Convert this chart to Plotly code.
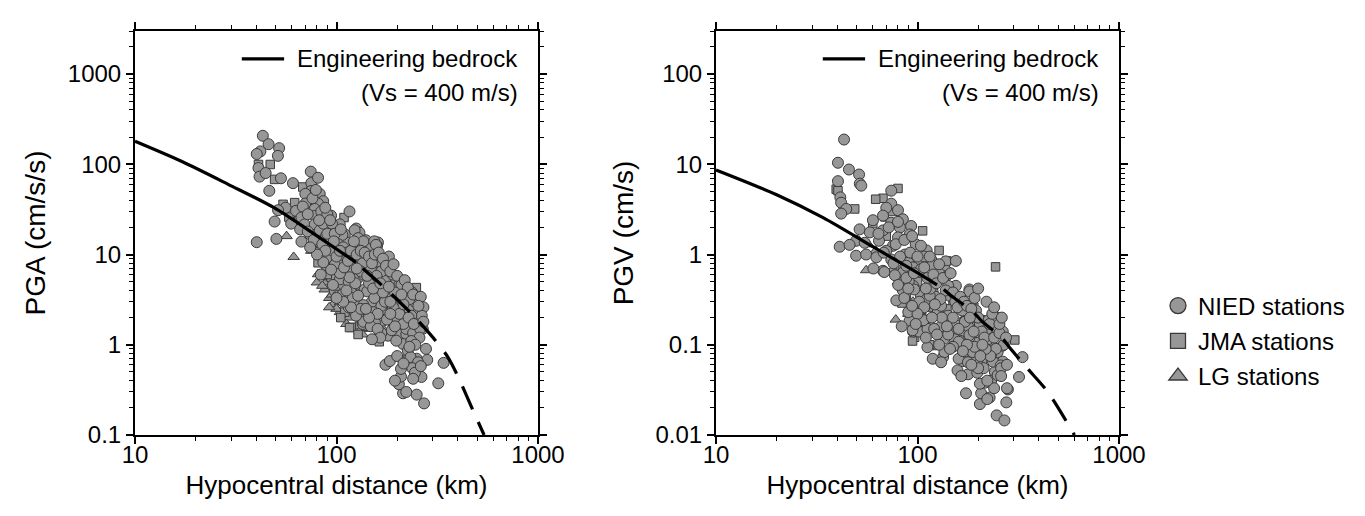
import math
import plotly.graph_objects as go

# ---------------- PGA panel data (distance km, PGA cm/s/s) ----------------
pga_nied_d = [43.1, 46, 41.9, 40.2, 51.9, 51.2, 41, 41.5, 44.5, 53, 46.4, 60.8, 74.5, 40.2, 50.3, 49.3,
              116, 182, 340, 320, 282, 272, 250, 214, 204, 209, 175, 184, 256, 250, 229,
              75, 81, 82.6, 74.8, 70, 85.9, 81, 70, 55.9, 51.3, 63, 68, 78, 94, 78, 87.4, 67, 59.6,
              103.8, 69.5, 78, 82.6, 92.4, 67, 73.7, 81, 99.5, 92.4, 93.6, 103.8, 88.7,
              125.4, 110, 130, 112, 140, 160.6, 159, 130, 149, 121, 106, 165.5, 130,
              118.5, 143, 167, 112, 128, 149, 174, 198, 237, 222, 254, 106, 118.5, 138, 157, 180, 202,
              110, 125, 149, 167, 190, 219, 249, 128, 152, 170, 268, 249, 135, 155, 180, 206, 222, 244,
              214, 198, 226, 233, 254, 209, 238, 264, 245, 222, 195,
              98, 104, 102,
              92.5, 107, 123, 128, 136, 154, 157, 131, 115, 98, 89, 83.5, 96, 115, 136, 148, 164, 167,
              142, 120, 107, 115, 136, 154, 174, 160, 182, 136, 125, 148, 167, 188, 222, 240, 196, 212,
              230, 251, 260, 226, 245, 256, 200,
              66, 72, 77, 85, 90, 96, 100, 110, 88, 205, 190, 230,
              72, 76, 79, 84, 86, 90, 95, 98, 102, 105, 108, 112, 118, 122, 126, 132, 135, 138, 145, 150,
              155, 162, 170, 176, 185, 192, 200, 210, 218, 226, 240, 262, 270, 265, 258, 235, 215, 195,
              178, 160, 145, 132, 118, 108, 100, 112, 124, 132, 145, 158, 170, 185, 195, 205, 215, 235,
              185, 165, 150, 140, 128, 116, 104, 94, 86, 80, 74, 82, 88, 93, 97, 104, 109, 114, 126, 142,
              152, 165, 182, 210, 228, 242, 270, 255, 246, 230, 200, 215, 240, 262, 278]
pga_nied_v = [207, 167, 139, 130, 151, 124, 91, 73, 80, 70, 50.8, 61.8, 83, 13.7, 14.9, 23.2,
              30, 9.5, 0.63, 0.374, 0.68, 0.224, 0.28, 0.29, 0.365, 0.444, 0.6, 0.66, 0.46, 0.7, 0.74,
              62, 71, 47, 50.6, 47, 39, 36.7, 36.7, 33, 31, 30.5, 34, 32, 27, 26.8, 25.7, 25.7, 22,
              21.6, 21.6, 21.6, 18.5, 20.8, 13.9, 16.8, 10.5, 14.8, 12.5, 8.5, 7.8, 16,
              19.4, 16.7, 17.5, 13.6, 14.4, 13.6, 12.5, 12, 12.5, 9.1, 9.9, 8.3, 8.9,
              7.2, 7.5, 7.2, 5.8, 5.5, 5.3, 5.1, 5.1, 3.8, 3.7, 3.0, 4.5, 3.8, 4.1, 3.95, 3.5, 3.2,
              3.2, 3.0, 2.95, 2.7, 2.5, 2.4, 2.3, 2.1, 2.3, 1.85, 1.5, 2.05, 1.7, 1.78, 1.26, 1.31, 1.31, 1.34,
              1.02, 1.11, 0.86, 0.73, 0.64, 0.54, 0.55, 0.44, 0.49, 0.30, 0.40,
              3.95, 5.3, 3.5,
              13.4, 16.5, 18.6, 15.2, 14, 14, 12.8, 9.1, 7.0, 7.7, 9.1, 6.0, 4.6, 5.0, 6.0, 7.0, 8.3, 6.5,
              3.9, 3.3, 3.6, 2.6, 2.75, 3.3, 3.0, 2.2, 2.0, 1.8, 2.1, 1.6, 1.35, 1.45, 1.5, 1.35, 2.7, 3.0,
              2.5, 2.0, 1.5, 3.5, 3.0, 2.3, 1.85,
              19, 18, 14.5, 13, 17, 11, 9.5, 11, 11, 4.6, 6.0, 3.2,
              28, 42, 52, 30, 22, 28, 22, 17, 13, 19, 12, 10.5, 11, 14, 10, 11, 8, 10.5, 9.5, 8,
              10, 10.5, 9, 7.5, 6.5, 7.8, 5.8, 4.6, 5.2, 4.3, 3.6, 3.4, 2.6, 2.1, 1.2, 1.1, 1.7, 1.6,
              1.9, 1.5, 2.0, 2.5, 2.6, 3.0, 3.3, 4.0, 4.8, 6.5, 4.8, 5.8, 3.8, 3.0, 3.8, 2.2, 2.8, 2.1,
              2.2, 1.2, 1.15, 2.5, 3.5, 5.6, 6.2, 6.8, 8.2, 10, 12, 24, 33, 24, 14, 11, 7.2, 8.5, 7.0, 5.8,
              4.2, 4.8, 4.4, 3.6, 2.0, 1.7, 1.8, 2.7, 1.0, 0.95, 0.75, 0.62, 0.42, 0.58, 0.9]

pga_jma_d = [41, 46.9, 49.3, 68, 62, 54.3, 109, 81, 152, 249, 118.5, 163, 88.7, 94, 110, 116, 148,
             250, 233, 75, 100, 140, 180, 125, 95, 200, 170, 65, 58, 72, 120, 210, 260,
             90, 115, 135, 160, 190, 220, 105, 128, 150, 175]
pga_jma_v = [99.5, 99.5, 68, 56, 37.6, 36, 25.7, 8.1, 8.1, 4.3, 1.56, 1.08, 6.9, 5.6, 2.3, 1.55, 8.8,
             1.2, 2.8, 12, 10, 1.6, 3.0, 4.5, 11.5, 1.3, 2.4, 24, 26, 40, 6.0, 2.0, 1.9,
             6.0, 3.2, 2.2, 3.5, 1.7, 1.6, 2.0, 1.3, 6.5, 4.0]

pga_lg_d = [56.5, 61.3, 81, 80, 88.7, 87.4, 96, 104, 104, 110, 125, 145, 150, 170, 100, 85, 92, 130,
            75, 115, 78, 190, 60, 95, 112, 135, 160, 120, 86, 92]
pga_lg_v = [16, 9.4, 6.05, 4.9, 4.9, 4.1, 2.8, 2.3, 2.95, 2.2, 1.6, 1.5, 1.65, 1.5, 2.5, 4.5, 3.3, 1.4,
            11, 2.0, 13, 1.5, 24, 3.6, 1.7, 1.3, 1.3, 2.4, 5.6, 2.6]

# engineering bedrock curve for PGA (solid within range, dashed beyond)
pga_curve_solid_d = [10, 17, 29, 49, 78, 125]
pga_curve_solid_v = [180, 108, 60, 33, 16.7, 8.2]
pga_curve_dash_d = [135, 180, 254, 357, 485, 540]
pga_curve_dash_v = [7.0, 3.97, 1.85, 0.73, 0.17, 0.1]

# ---------------- PGV panel data (distance km, PGV cm/s) ----------------
pgv_nied_d = [43.2, 40.3, 45.7, 51.3, 40.3, 51.7, 52.6, 41.4, 41.8, 44.3, 41.8, 74.1, 74.1, 70, 80, 60.1,
              67.4, 74.1, 84.6, 81.8, 93, 91.4, 80, 67.4, 51.6, 58, 49.6, 54.7, 64.4, 75.6, 41.1, 46,
              49.6, 55.6, 62.5, 86.6, 74.1, 90, 102, 67.4, 84.6, 95, 104,
              111, 117, 138, 155, 139,
              78.5, 95, 102, 84.6, 83, 95, 104, 98.5, 106.6, 91.4, 90, 111,
              115, 139, 155, 181, 250, 332, 119, 123, 144, 155, 142, 153, 178, 211, 237, 250, 265, 242,
              164, 195, 224, 158, 178, 198, 216, 232, 207, 228, 174, 281, 276, 319, 247, 270, 168, 198,
              237, 259, 188, 134, 119, 112, 111, 126, 131, 112, 171, 195, 224, 153, 181, 211, 265, 265,
              60.4, 68.4, 77.2, 80.2, 90.5, 96.3, 102, 115, 131, 154, 167, 181, 188, 204, 222, 83.5,
              94.5, 107, 121, 136, 160, 181, 188, 160, 136, 131, 213, 231, 250, 240, 278, 260, 178,
              204, 204, 222, 250,
              98, 108, 118, 128, 142, 88, 70,
              64, 72, 78, 82, 86, 88, 92, 96, 100, 104, 108, 112, 116, 120, 124, 128, 134, 138, 146, 150,
              158, 163, 170, 176, 185, 192, 200, 208, 215, 228, 240, 255, 268, 245, 230, 218, 205, 192,
              176, 168, 150, 142, 132, 125, 118, 108, 100, 94, 86, 110, 130, 150, 172, 190, 210, 235,
              255, 260, 222, 200, 185, 165, 145, 128, 110, 98, 90, 76, 68, 80, 94, 115, 122, 140, 160,
              182, 200, 220, 240, 262, 275, 278]
pgv_nied_v = [18.8, 10.4, 8.75, 7.7, 6.5, 6.1, 5.8, 4.3, 3.75, 3.2, 2.84, 5.1, 3.66, 3.3, 3.1, 2.4,
              2.7, 2.25, 2.46, 1.99, 2.07, 1.67, 1.55, 1.85, 1.9, 1.76, 1.42, 1.35, 1.42, 1.25, 1.22, 1.28,
              0.97, 1.0, 0.93, 1.0, 0.88, 0.81, 0.88, 0.66, 0.63, 0.72, 0.69,
              1.11, 0.88, 0.84, 0.85, 0.66,
              0.31, 0.14, 0.14, 0.4, 0.49, 0.45, 0.35, 0.23, 0.19, 0.185, 0.23, 0.28,
              0.51, 0.58, 0.45, 0.41, 0.2, 0.073, 0.38, 0.34, 0.35, 0.31, 0.21, 0.17, 0.16, 0.185, 0.14,
              0.083, 0.065, 0.05,
              0.11, 0.105, 0.115, 0.052, 0.047, 0.049, 0.038, 0.04, 0.029, 0.026, 0.029, 0.032, 0.023,
              0.044, 0.0165, 0.0145, 0.066, 0.065,
              0.065, 0.059, 0.076, 0.073, 0.07, 0.094, 0.32, 0.23, 0.16, 0.15, 0.23, 0.24, 0.185, 0.115,
              0.12, 0.087, 0.098, 0.14,
              0.70, 0.64, 0.59, 0.46, 0.5, 0.41, 0.30, 0.35, 0.27, 0.30, 0.24, 0.39, 0.21, 0.17, 0.15, 0.16,
              0.145, 0.187, 0.15, 0.117, 0.108, 0.128, 0.083, 0.07, 0.083, 0.064, 0.055, 0.077, 0.046,
              0.033, 0.033, 0.055, 0.064,
              0.037, 0.022, 0.025, 0.19,
              1.3, 0.95, 0.75, 0.62, 0.45, 0.75, 1.1,
              1.7, 2.0, 1.3, 0.95, 1.45, 0.55, 1.05, 0.62, 0.95, 1.25, 0.72, 0.55, 0.42, 0.6, 0.48, 0.78,
              0.55, 0.4, 0.62, 0.38, 0.26, 0.34, 0.3, 0.27, 0.25, 0.33, 0.2, 0.14, 0.12, 0.17, 0.12, 0.135,
              0.1, 0.09, 0.075, 0.09, 0.075, 0.095, 0.1, 0.085, 0.095, 0.13, 0.2, 0.13, 0.2, 0.26, 0.22,
              0.27, 0.33, 0.42, 0.32, 0.2, 0.18, 0.14, 0.1, 0.22, 0.17, 0.045, 0.04, 0.055, 0.06, 0.045,
              0.09, 0.1, 0.12, 0.17, 0.42, 0.8, 1.05, 2.3, 1.6, 0.95, 0.28, 0.16, 0.15, 0.2, 0.42, 0.3,
              0.26, 0.2, 0.12, 0.06]

pgv_jma_d = [39.5, 40.3, 48.8, 80, 67.4, 106, 128, 244, 123, 88.1, 96.8, 119, 304, 96, 140, 83.7,
             94.5, 115, 196, 60, 70, 150, 170, 200, 230, 130, 105, 75, 62,
             100, 120, 140, 165, 185, 210, 90, 110]
pgv_jma_v = [5.3, 5.1, 3.2, 5.4, 4.2, 1.83, 1.11, 0.73, 0.66, 0.34, 0.121, 0.098, 0.113, 0.9, 0.85, 0.29,
             0.11, 0.1, 0.2, 2.2, 1.6, 0.3, 0.18, 0.12, 0.11, 0.14, 0.2, 3.0, 4.1,
             0.5, 0.45, 0.25, 0.13, 0.16, 0.065, 0.65, 0.16]

pgv_lg_d = [55.6, 78, 188, 75.6, 62, 85, 90, 100, 110, 70, 95, 120, 57, 105, 130, 150, 80, 115]
pgv_lg_v = [0.67, 0.19, 0.3, 0.69, 1.1, 0.75, 0.22, 0.45, 0.4, 2.5, 0.3, 0.25, 1.3, 0.6, 0.22, 0.14, 0.5,
            0.32]

pgv_curve_solid_d = [10, 20, 34, 60, 106, 125]
pgv_curve_solid_v = [8.65, 4.6, 2.56, 1.22, 0.58, 0.46]
pgv_curve_dash_d = [135, 147, 188, 210, 261, 289, 353, 443, 601]
pgv_curve_dash_v = [0.41, 0.35, 0.233, 0.18, 0.121, 0.091, 0.054, 0.03, 0.01]

legend_names = ["NIED stations", "JMA stations", "LG stations"]
x_title = "Hypocentral distance (km)"
y_titles = ["PGA (cm/s/s)", "PGV (cm/s)"]
curve_label = ["Engineering bedrock", "(Vs = 400 m/s)"]

# ---------------- figure ----------------
W, H = 1365, 516
FILL = "#979797"
EDGE = "#3a3a3a"
FONT = "Liberation Sans, Arial, Helvetica, sans-serif"

fig = go.Figure()


def markers(xs, ys, symbol, size, xa, ya):
    fig.add_trace(go.Scatter(
        x=xs, y=ys, mode="markers", xaxis=xa, yaxis=ya, showlegend=False, hoverinfo="skip",
        marker=dict(symbol=symbol, size=size, color=FILL, line=dict(color=EDGE, width=1))))


def curve(xs, ys, dash, xa, ya):
    fig.add_trace(go.Scatter(
        x=xs, y=ys, mode="lines", xaxis=xa, yaxis=ya, showlegend=False, hoverinfo="skip",
        line=dict(color="black", width=3.2, dash=dash, shape="spline", smoothing=0.8)))


panels = [
    ("x", "y", pga_nied_d, pga_nied_v, pga_jma_d, pga_jma_v, pga_lg_d, pga_lg_v,
     pga_curve_solid_d, pga_curve_solid_v, pga_curve_dash_d, pga_curve_dash_v),
    ("x2", "y2", pgv_nied_d, pgv_nied_v, pgv_jma_d, pgv_jma_v, pgv_lg_d, pgv_lg_v,
     pgv_curve_solid_d, pgv_curve_solid_v, pgv_curve_dash_d, pgv_curve_dash_v),
]
for xa, ya, nd, nv, jd, jv, ld, lv, csd, csv, cdd, cdv in panels:
    markers(ld, lv, "triangle-up", 10, xa, ya)
    markers(jd, jv, "square", 8.5, xa, ya)
    markers(nd, nv, "circle", 11, xa, ya)
    curve(csd, csv, "solid", xa, ya)
    curve(cdd, cdv, "25px,14px", xa, ya)

# legend-only entries
for name, sym, sz in zip(legend_names, ["circle", "square", "triangle-up"], [16, 15, 16]):
    fig.add_trace(go.Scatter(
        x=[None], y=[None], mode="markers", name=name, legendgroup=name, xaxis="x2", yaxis="y2",
        marker=dict(symbol=sym, size=sz, color=FILL, line=dict(color=EDGE, width=1.3))))

x_dom = [[127 / W, 530 / W], [708 / W, 1111 / W]]
y_dom = [1 - 427 / H, 1 - 23 / H]

axis_common = dict(
    type="log", showline=True, linecolor="black", linewidth=2, mirror="allticks",
    ticks="outside", ticklen=7, tickwidth=1.5, tickcolor="black", showgrid=False, zeroline=False,
    dtick=1, tickfont=dict(family=FONT, size=24, color="black"), automargin=False,
    minor=dict(ticks="outside", ticklen=4, tickwidth=1, tickcolor="black", dtick="D1", showgrid=False),
)
x_extra = dict(ticklabelstandoff=-10)

fig.update_layout(
    width=W, height=H, margin=dict(l=0, r=0, t=0, b=0, autoexpand=False),
    paper_bgcolor="white", plot_bgcolor="white",
    font=dict(family=FONT, color="black"),
    xaxis=dict(axis_common, **x_extra, domain=x_dom[0], range=[1, 3], anchor="y",
               title=dict(text=x_title, font=dict(size=26), standoff=9)),
    yaxis=dict(axis_common, domain=y_dom, range=[-1, math.log10(3000)], anchor="x",
               title=dict(text=y_titles[0], font=dict(size=28), standoff=14)),
    xaxis2=dict(axis_common, **x_extra, domain=x_dom[1], range=[1, 3], anchor="y2",
                title=dict(text=x_title, font=dict(size=26), standoff=9)),
    yaxis2=dict(axis_common, domain=y_dom, range=[-2, math.log10(300)], anchor="x2",
                title=dict(text=y_titles[1], font=dict(size=28), standoff=14)),
    legend=dict(x=1150 / W, y=1 - 333 / H, xanchor="left", yanchor="middle",
                font=dict(family=FONT, size=24, color="black"), tracegroupgap=1,
                itemwidth=30, bgcolor="rgba(0,0,0,0)"),
    showlegend=True,
)

# in-panel curve legend
for xr, yr in [("x domain", "y domain"), ("x2 domain", "y2 domain")]:
    fig.add_shape(type="line", xref=xr, yref=yr, x0=0.265, x1=0.37, y0=0.931, y1=0.931,
                  line=dict(color="black", width=3.2))
    fig.add_annotation(xref=xr, yref=yr, x=0.955, y=0.931, text=curve_label[0], showarrow=False,
                       xanchor="right", yanchor="middle", font=dict(size=24))
    fig.add_annotation(xref=xr, yref=yr, x=0.955, y=0.847, text=curve_label[1], showarrow=False,
                       xanchor="right", yanchor="middle", font=dict(size=24))

fig.write_html("out.html")
